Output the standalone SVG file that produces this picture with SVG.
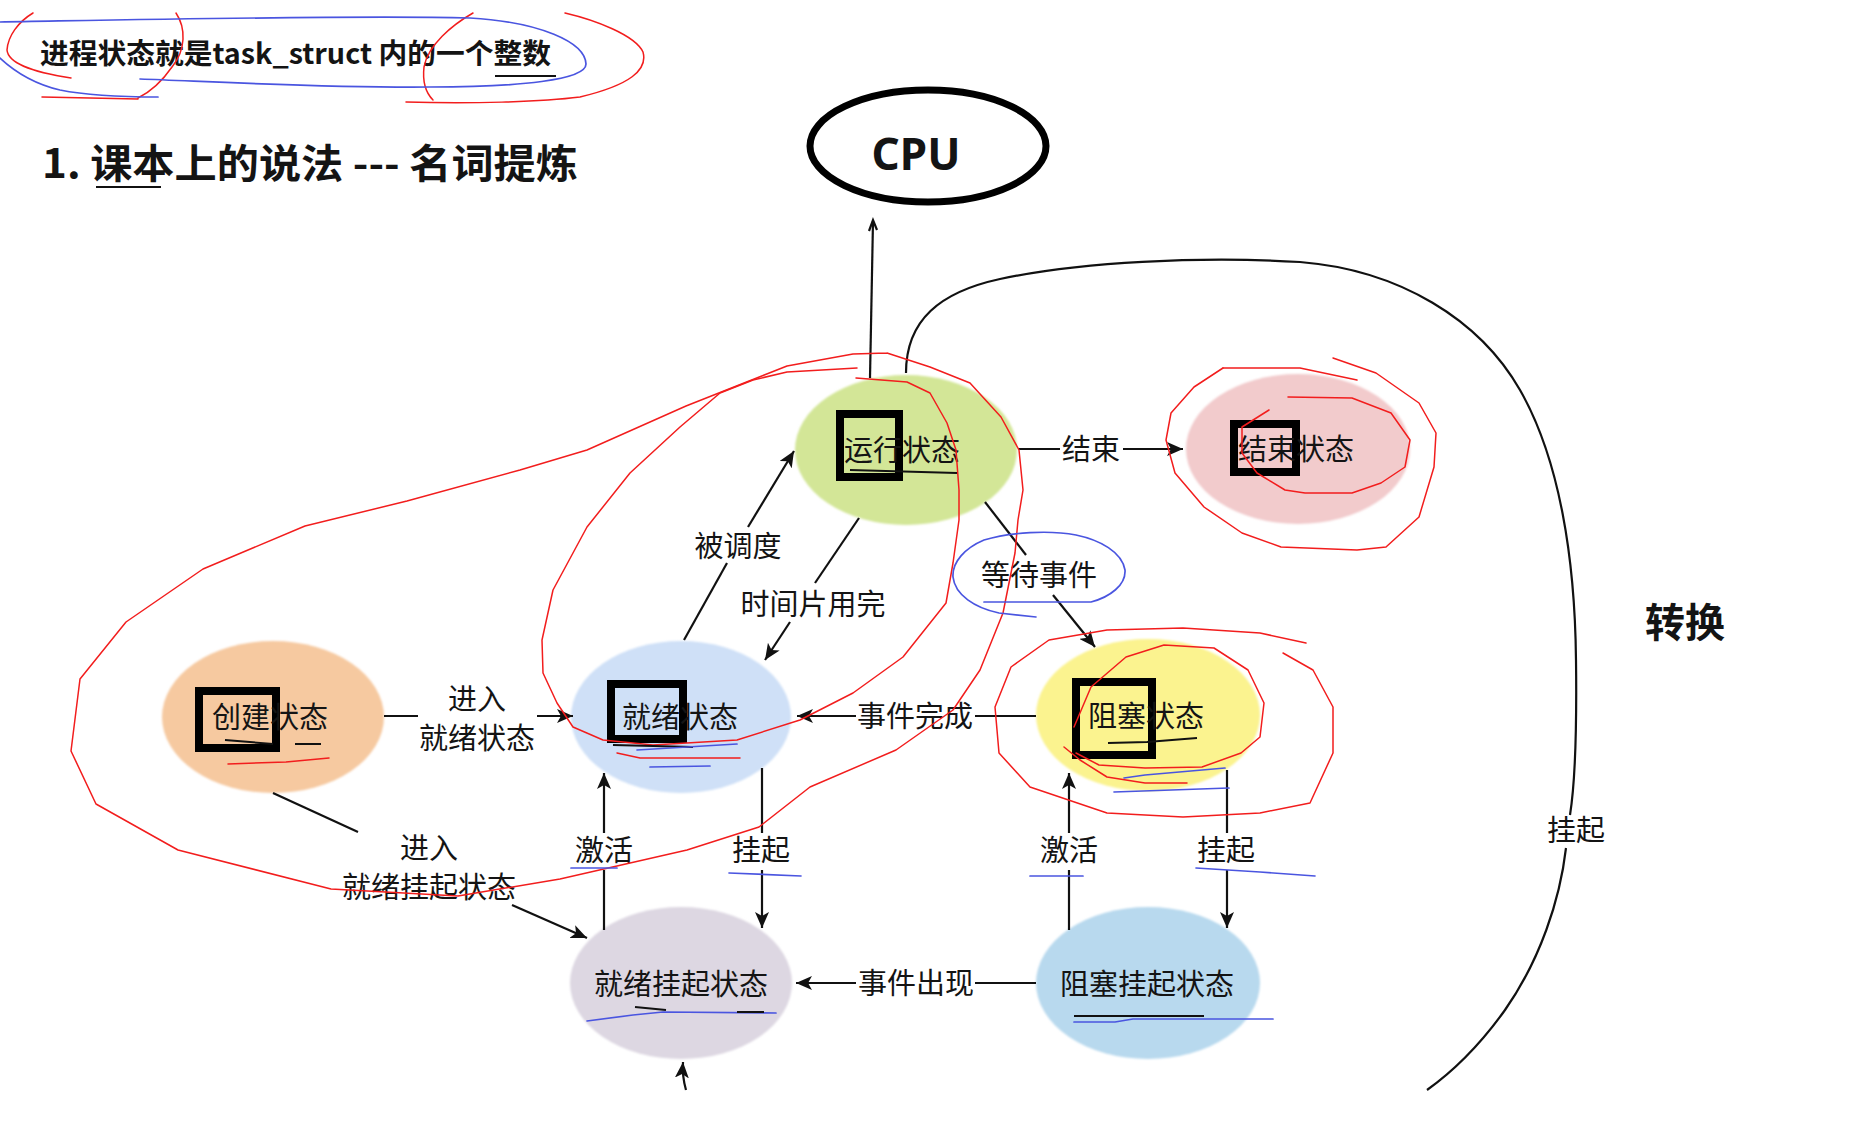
<svg xmlns="http://www.w3.org/2000/svg" width="1852" height="1130" viewBox="0 0 1852 1130">
<style>
text{font-family:'Noto Sans CJK SC','Noto Sans',sans-serif;fill:#141414}
.lbl{font-size:29px;text-anchor:middle}
.nd{font-size:29px;text-anchor:middle}
.ln{stroke:#111;stroke-width:2.2;fill:none}
.box{fill:none;stroke:#000;stroke-width:8}
.red{fill:none;stroke:#f21d1d;stroke-width:1.5;stroke-linejoin:round;stroke-linecap:round}
.blue{fill:none;stroke:#4a55e0;stroke-width:1.7;stroke-linejoin:round;stroke-linecap:round}
.ul{fill:none;stroke:#111;stroke-width:2}
</style>
<defs>
<marker id="ah" markerUnits="userSpaceOnUse" markerWidth="18" markerHeight="14" refX="16" refY="7" orient="auto"><path d="M0,0 L16,7 L0,14 L4,7 z" fill="#111"/></marker>
<filter id="soft" x="-5%" y="-5%" width="110%" height="110%"><feGaussianBlur stdDeviation="1.2"/></filter>
</defs>
<rect width="1852" height="1130" fill="#fff"/>

<g id="titles">
<text x="40" y="64" font-size="28" font-weight="700" textLength="511" lengthAdjust="spacingAndGlyphs">进程状态就是task_struct 内的一个整数</text>
<text x="42" y="178" font-size="40" font-weight="700" textLength="536" lengthAdjust="spacingAndGlyphs">1. 课本上的说法 --- 名词提炼</text>
<path class="ul" d="M495,76 H556 M96,187 H161"/>
<text x="1645" y="637" font-size="40" font-weight="700">转换</text>
</g>

<g id="cpu">
<ellipse cx="928" cy="146" rx="118" ry="56" fill="none" stroke="#000" stroke-width="7"/>
<text x="916" y="170" font-size="44" font-weight="700" text-anchor="middle" style="font-family:'Noto Sans','Open Sans',sans-serif">CPU</text>
</g>

<g id="node-create">
<ellipse cx="273" cy="717" rx="111" ry="76" fill="#f6c9a0" filter="url(#soft)"/>
<rect class="box" x="199" y="691" width="77" height="57"/>
<text class="nd" x="270" y="728">创建状态</text>
</g>
<g id="node-ready">
<ellipse cx="681" cy="717" rx="110" ry="76" fill="#cfe0f7" filter="url(#soft)"/>
<rect class="box" x="611" y="684" width="72" height="55"/>
<text class="nd" x="680" y="728">就绪状态</text>
</g>
<g id="node-run">
<ellipse cx="906" cy="450" rx="111" ry="75" fill="#d3e697" filter="url(#soft)"/>
<rect class="box" x="840" y="414" width="59" height="63" stroke-width="7"/>
<text class="nd" x="902" y="461">运行状态</text>
</g>
<g id="node-end">
<ellipse cx="1298" cy="449" rx="112" ry="75" fill="#f2cbcc" filter="url(#soft)"/>
<rect class="box" x="1234" y="424" width="62" height="48"/>
<text class="nd" x="1296" y="460">结束状态</text>
</g>
<g id="node-block">
<ellipse cx="1148" cy="715" rx="112" ry="76" fill="#fbf38f" filter="url(#soft)"/>
<rect class="box" x="1076" y="682" width="76" height="73"/>
<text class="nd" x="1146" y="727">阻塞状态</text>
</g>
<g id="node-ready-suspend">
<ellipse cx="681" cy="983" rx="111" ry="76" fill="#ddd7e2" filter="url(#soft)"/>
<text class="nd" x="681" y="995">就绪挂起状态</text>
</g>
<g id="node-block-suspend">
<ellipse cx="1148" cy="983" rx="112" ry="76" fill="#b8d9ee" filter="url(#soft)"/>
<text class="nd" x="1147" y="995">阻塞挂起状态</text>
</g>

<g id="connectors">
<path class="ln" d="M384,716 H418"/>
<path class="ln" d="M537,716 H573" marker-end="url(#ah)"/>
<text class="lbl" x="477" y="710">进入</text>
<text class="lbl" x="477" y="749">就绪状态</text>

<path class="ln" d="M684,640 L727,563"/>
<path class="ln" d="M748,527 L794,451" marker-end="url(#ah)"/>
<text class="lbl" x="738" y="557">被调度</text>

<path class="ln" d="M859,518 L815,583"/>
<path class="ln" d="M790,622 L765,660" marker-end="url(#ah)"/>
<text class="lbl" x="813" y="615">时间片用完</text>

<path class="ln" d="M1018,449 H1060"/>
<path class="ln" d="M1123,449 H1183" marker-end="url(#ah)"/>
<text class="lbl" x="1091" y="460">结束</text>

<path class="ln" d="M985,502 L1026,555"/>
<path class="ln" d="M1053,595 L1095,647" marker-end="url(#ah)"/>
<text class="lbl" x="1039" y="586">等待事件</text>

<path class="ln" d="M1036,716 H975"/>
<path class="ln" d="M856,716 H797" marker-end="url(#ah)"/>
<text class="lbl" x="915" y="727">事件完成</text>

<path class="ln" d="M762,768 V833"/>
<path class="ln" d="M762,870 V928" marker-end="url(#ah)"/>
<text class="lbl" x="761" y="861">挂起</text>

<path class="ln" d="M604,930 V870"/>
<path class="ln" d="M604,833 V773" marker-end="url(#ah)"/>
<text class="lbl" x="604" y="861">激活</text>

<path class="ln" d="M1227,770 V833"/>
<path class="ln" d="M1227,870 V928" marker-end="url(#ah)"/>
<text class="lbl" x="1226" y="861">挂起</text>

<path class="ln" d="M1069,930 V870"/>
<path class="ln" d="M1069,833 V773" marker-end="url(#ah)"/>
<text class="lbl" x="1069" y="861">激活</text>

<path class="ln" d="M1036,983 H975"/>
<path class="ln" d="M856,983 H796" marker-end="url(#ah)"/>
<text class="lbl" x="916" y="994">事件出现</text>

<path class="ln" d="M273,793 L358,832"/>
<path class="ln" d="M512,905 L587,938" marker-end="url(#ah)"/>
<text class="lbl" x="429" y="859">进入</text>
<text class="lbl" x="429" y="898">就绪挂起状态</text>

<path class="ln" d="M686,1090 Q682,1076 683,1062" marker-end="url(#ah)"/>

<path class="ln" d="M870,378 L873,221" stroke-width="1.6"/>
<path class="ln" d="M869,231 L873,220 L877,230" stroke-width="1.6"/>

<path class="ln" d="M906,373 C906,320 940,292 1000,279 C1080,262 1200,256 1300,262 C1400,270 1480,320 1520,390 C1560,460 1575,560 1576,660 C1577,740 1574,790 1570,815"/>
<path class="ln" d="M1566,848 C1560,900 1540,960 1505,1010 C1480,1045 1455,1070 1427,1090"/>
<text class="lbl" x="1576" y="841">挂起</text>
</g>

<g id="annotations">
<path class="red" d="M33,13 C18,22 8,36 7,50 C8,62 30,72 71,78"/>
<path class="red" d="M176,13 C186,28 186,50 172,67 C163,80 150,92 138,98 M42,97 L138,99"/>
<path class="red" d="M473,13 C452,25 428,45 424,67 C422,85 428,95 433,100"/>
<path class="red" d="M565,13 C595,20 635,35 643,52 C648,70 630,85 580,97 C540,102 470,104 406,102"/>
<path class="blue" d="M0,22 C120,20 350,15 470,18 C540,22 585,42 586,64 C586,80 520,87 430,87 C330,88 220,82 140,79"/>
<path class="blue" d="M0,58 C15,72 35,84 60,90 C90,96 120,97 158,97"/>

<path class="red" d="M887,353 L853,354 L787,366 L686,406 L587,450 L520,470 L407,501 L305,526 L203,569 L126,622 L80,679 L71,751 L96,804 L178,850 L331,889 L458,896 L560,879 L687,850 L759,827 L810,787 L896,750 L953,710 L980,670 L1003,613 L1015,553 L1018,520 L1023,490 L1019,450 L1001,417 L970,383 L930,367 L887,353"/>
<path class="red" d="M857,368 L787,372 L753,380 L720,393 L680,427 L630,473 L587,527 L553,590 L542,640 L543,673 L557,703 L573,727 L603,740 L653,745 L737,740 L800,720 L853,693 L903,657 L946,603 L953,563 L959,520 L959,490 L956,450 L947,423 L930,393 L907,382 L856,378"/>

<path class="red" d="M1223,368 L1300,368 L1357,380"/>
<path class="red" d="M1333,358 L1376,373 L1419,403 L1436,433 L1434,467 L1419,517 L1386,547 L1357,550 L1281,547 L1242,533 L1204,507 L1175,473 L1166,440 L1171,413 L1194,387 L1223,368"/>
<path class="red" d="M1288,397 L1352,398 L1391,413 L1410,440 L1405,467 L1381,483 L1352,493 L1305,493 L1285,490 L1257,473 L1242,453 L1242,427 L1269,410"/>

<path class="red" d="M1306,643 L1260,633 L1183,628 L1107,630 L1049,640 L1011,667 L995,707 L999,753 L1030,787 L1107,813 L1183,817 L1260,813 L1310,803 L1333,753 L1333,707 L1313,670 L1283,653"/>
<path class="red" d="M1074,727 L1091,687 L1126,657 L1164,645 L1214,648 L1248,670 L1264,703 L1260,737 L1241,753 L1202,767 L1145,768 L1099,765 L1076,753"/>
<path class="red" d="M1064,747 L1080,760 L1107,777 L1145,783 L1187,783"/>

<path class="blue" d="M984,602 L1091,602 C1110,597 1126,585 1125,570 C1122,552 1100,540 1076,535 C1050,530 1010,532 984,540 C965,548 952,562 953,577 C955,595 975,608 999,613 L1036,617"/>

<path class="red" d="M228,764 L286,762 L329,758"/>
<path class="ul" d="M225,740 L273,744 M295,744 H321"/>
<path class="ul" d="M613,745 L693,747"/>
<path class="blue" d="M637,750 L737,744"/>
<path class="red" d="M617,753 L640,758 L740,758"/>
<path class="blue" d="M650,767 L710,766"/>
<path class="ul" d="M850,470 L957,473"/>
<path class="ul" d="M1108,743 L1147,742 L1197,738"/>
<path class="blue" d="M1124,778 L1145,775 L1225,768"/>
<path class="blue" d="M1114,792 L1229,788"/>
<path class="blue" d="M571,868 L617,868"/>
<path class="blue" d="M729,873 L801,876"/>
<path class="blue" d="M1030,876 L1083,876"/>
<path class="blue" d="M1196,868 L1260,872 L1315,876"/>
<path class="blue" d="M587,1021 L633,1015 L663,1012 L776,1013"/>
<path class="ul" d="M635,1007 L666,1010 M737,1012 L764,1012"/>
<path class="ul" d="M1074,1016 L1204,1016"/>
<path class="blue" d="M1074,1022 L1115,1022 L1133,1019 L1273,1019"/>
</g>
</svg>
